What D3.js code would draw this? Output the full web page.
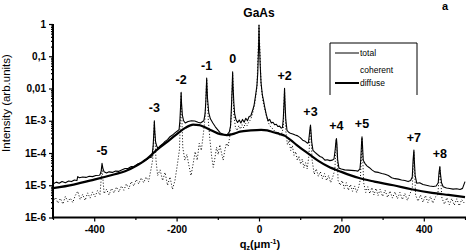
<!DOCTYPE html>
<html><head><meta charset="utf-8">
<script src="https://cdn.jsdelivr.net/npm/d3@7"></script>
<style>body{margin:0;background:#fff}svg{display:block}text{font-family:"Liberation Sans",Arial,sans-serif;fill:#000}</style>
</head><body><svg id="c" width="466" height="252"></svg>
<script>
// total intensity [q_z, I]
const total = [
[-500,1.1e-5],[-492,1.25e-5],[-485,1.15e-5],[-478,1.3e-5],[-470,1.2e-5],[-462,1.35e-5],[-455,1.3e-5],[-448,1.45e-5],[-442,1.4e-5],[-440,1.85e-5],[-436,1.7e-5],[-428,1.8e-5],[-420,1.75e-5],[-412,1.9e-5],[-404,1.85e-5],[-396,2.0e-5],[-388,2.05e-5],[-386,2.1e-5],[-383,2.8e-5],[-381,4.8e-5],[-379,3.4e-5],[-376,2.6e-5],[-370,2.4e-5],[-364,2.6e-5],[-356,2.5e-5],[-348,2.75e-5],[-340,2.7e-5],[-332,3.0e-5],[-325,3.3e-5],[-318,3.3e-5],[-310,3.8e-5],[-302,3.9e-5],[-294,4.6e-5],[-286,4.9e-5],[-278,5.9e-5],[-272,6.3e-5],[-266,7.2e-5],[-260,7.5e-5],[-257,1.6e-4],[-255,5e-4],[-254,1.0e-3],[-253,5e-4],[-251,2.2e-4],[-248,1.6e-4],[-245,1.4e-4],[-240,1.65e-4],[-234,1.9e-4],[-228,2.3e-4],[-222,2.6e-4],[-216,3.2e-4],[-210,3.6e-4],[-204,4.2e-4],[-198,4.8e-4],[-194,5.3e-4],[-192,1.0e-3],[-190,3.5e-3],[-189,7.6e-3],[-188,3.5e-3],[-186,1.5e-3],[-183,1.0e-3],[-179,8.5e-4],[-172,9.5e-4],[-164,1.0e-3],[-156,9.8e-4],[-148,9.0e-4],[-142,8.5e-4],[-134,1.0e-3],[-131,1.6e-3],[-129,4e-3],[-127,0.021],[-125,5e-3],[-122,1.8e-3],[-118,1.15e-3],[-112,8.5e-4],[-106,6.5e-4],[-100,5.2e-4],[-94,4.2e-4],[-88,3.9e-4],[-82,3.7e-4],[-78,3.6e-4],[-72,4.5e-4],[-69,7e-4],[-67,2.5e-3],[-65,0.012],[-64,0.033],[-63,0.012],[-61,3.5e-3],[-59,1.6e-3],[-56,1.1e-3],[-52,8.8e-4],[-48,1.05e-3],[-44,8.5e-4],[-40,1.1e-3],[-36,9.0e-4],[-32,1.2e-3],[-28,1.0e-3],[-24,1.35e-3],[-20,1.4e-3],[-16,2.0e-3],[-12,3.0e-3],[-8,6.5e-3],[-5,0.0125],[-3,0.03],[-1,0.2],[0,0.93],[1,0.25],[3,0.05],[5,0.015],[8,6.5e-3],[11,4.2e-3],[14,2.6e-3],[18,1.5e-3],[22,1.0e-3],[26,1.1e-3],[30,8.5e-4],[34,9.0e-4],[38,7.5e-4],[42,7.8e-4],[46,6.6e-4],[50,6.8e-4],[54,5.9e-4],[57,6.2e-4],[59,1.2e-3],[61,4.5e-3],[62,0.0102],[63,4e-3],[65,1.1e-3],[68,5e-4],[72,4.4e-4],[76,4.1e-4],[82,3.9e-4],[88,3.6e-4],[94,3.4e-4],[100,3.0e-4],[106,2.5e-4],[112,2.3e-4],[118,2.0e-4],[120,2.1e-4],[122,3.5e-4],[124,6e-4],[125,7.4e-4],[126,5e-4],[128,2.2e-4],[131,1.2e-4],[136,1.05e-4],[142,9e-5],[148,7.8e-5],[154,7.2e-5],[160,6.0e-5],[166,6.2e-5],[172,5.8e-5],[178,6.0e-5],[182,6.5e-5],[185,1.3e-4],[187,2.5e-4],[188,2.8e-4],[189,2.0e-4],[191,6e-5],[194,3.4e-5],[200,3.2e-5],[208,3.0e-5],[216,2.95e-5],[224,2.9e-5],[232,2.85e-5],[240,2.75e-5],[245,3.2e-5],[247,6e-5],[249,2.2e-4],[250,3.2e-4],[251,2e-4],[253,6e-5],[257,4.8e-5],[262,4e-5],[268,3.5e-5],[274,3.0e-5],[281,2.6e-5],[290,2.5e-5],[298,2.3e-5],[306,2.2e-5],[314,2.0e-5],[322,1.7e-5],[330,1.6e-5],[338,1.55e-5],[346,1.45e-5],[354,1.4e-5],[362,1.3e-5],[368,1.4e-5],[372,1.8e-5],[374,6e-5],[376,1.23e-4],[377,6e-5],[379,2e-5],[383,1.15e-5],[390,1.2e-5],[398,1.05e-5],[406,1.0e-5],[414,9.5e-6],[423,9.1e-6],[430,9.5e-6],[435,1.2e-5],[437,2.5e-5],[439,3.8e-5],[440,2.5e-5],[443,1.2e-5],[447,9e-6],[455,8.2e-6],[463,7.9e-6],[471,7.6e-6],[480,7.8e-6],[488,7.4e-6],[494,8e-6],[498,1.1e-5],[500,1.3e-5]
];
// coherent part [q_z, I]
const coherent = [
[-500,3.0e-6],[-494,4.2e-6],[-488,2.8e-6],[-482,3.9e-6],[-476,2.6e-6],[-470,4.5e-6],[-464,3.1e-6],[-458,4.0e-6],[-452,2.9e-6],[-446,4.8e-6],[-440,6.5e-6],[-434,3.6e-6],[-428,5.2e-6],[-422,3.4e-6],[-416,5.8e-6],[-410,4.0e-6],[-404,6.2e-6],[-398,4.4e-6],[-392,6.8e-6],[-386,5.0e-6],[-381,3.5e-5],[-376,5.5e-6],[-370,7.5e-6],[-364,5.0e-6],[-358,8.0e-6],[-352,5.8e-6],[-346,8.8e-6],[-340,6.2e-6],[-334,9.5e-6],[-328,7.0e-6],[-322,1.1e-5],[-316,7.8e-6],[-310,1.3e-5],[-304,9.5e-6],[-298,1.5e-5],[-292,1.1e-5],[-286,1.7e-5],[-280,1.2e-5],[-274,1.8e-5],[-268,1.3e-5],[-262,3.2e-5],[-258,6.3e-5],[-254,9e-4],[-250,6e-5],[-246,2.0e-5],[-240,3.0e-5],[-234,1.4e-5],[-228,2.5e-5],[-222,1.0e-5],[-216,1.8e-5],[-210,7.5e-6],[-204,1.4e-5],[-198,4.5e-5],[-193,1.3e-4],[-189,7e-3],[-185,1.5e-4],[-180,6.0e-5],[-175,9.0e-5],[-170,4.0e-5],[-165,2.0e-5],[-160,4.5e-5],[-155,1.1e-4],[-150,6.0e-5],[-145,2.0e-4],[-140,1.2e-4],[-135,4.0e-4],[-131,1.2e-3],[-127,0.02],[-123,1.0e-3],[-119,2.5e-4],[-115,8.0e-5],[-111,3.6e-5],[-107,7.0e-5],[-103,1.5e-4],[-99,9.0e-5],[-95,1.8e-4],[-91,1.0e-4],[-87,6.0e-5],[-83,1.2e-4],[-79,2.0e-4],[-75,1.6e-4],[-71,3.2e-4],[-67,1.5e-3],[-64,0.03],[-61,1.5e-3],[-57,6.0e-4],[-53,5.0e-4],[-49,7.0e-4],[-45,5.5e-4],[-41,7.5e-4],[-37,6.0e-4],[-33,8.5e-4],[-29,7.0e-4],[-25,9.0e-4],[-20,1.1e-3],[-15,1.8e-3],[-10,3.5e-3],[-5,0.011],[0,0.9],[5,0.013],[10,3.8e-3],[15,2.0e-3],[20,1.1e-3],[25,7.5e-4],[30,6.0e-4],[35,5.5e-4],[40,4.2e-4],[45,4.6e-4],[50,3.6e-4],[55,4.0e-4],[59,6.0e-4],[62,0.0095],[65,5.0e-4],[69,1.8e-4],[73,2.4e-4],[77,1.2e-4],[81,1.7e-4],[85,8.5e-5],[89,1.1e-4],[93,6.0e-5],[97,8.0e-5],[101,4.5e-5],[105,6.5e-5],[109,3.5e-5],[113,5.0e-5],[117,3.2e-5],[121,8e-5],[125,7e-4],[129,6e-5],[134,2.2e-5],[139,3.2e-5],[144,1.9e-5],[149,2.6e-5],[154,1.6e-5],[159,2.3e-5],[164,1.4e-5],[169,2.0e-5],[174,1.2e-5],[179,1.8e-5],[184,3.0e-5],[188,2.6e-4],[192,1.4e-5],[197,1.0e-5],[202,1.4e-5],[207,8.0e-6],[212,1.2e-5],[217,7.0e-6],[222,1.05e-5],[227,6.5e-6],[232,9.5e-6],[237,6.0e-6],[242,9.0e-6],[246,1.5e-5],[250,3.0e-4],[254,1.2e-5],[259,6.0e-6],[264,9.0e-6],[269,5.5e-6],[274,8.5e-6],[279,5.0e-6],[284,8.0e-6],[289,4.8e-6],[294,7.5e-6],[300,4.5e-6],[306,7.0e-6],[312,4.2e-6],[318,6.6e-6],[324,4.0e-6],[330,6.2e-6],[336,3.8e-6],[342,6.0e-6],[348,3.6e-6],[354,5.6e-6],[360,3.4e-6],[366,5.3e-6],[372,8.0e-6],[376,1.1e-4],[380,5.0e-6],[386,3.2e-6],[392,5.0e-6],[398,3.0e-6],[404,4.8e-6],[410,2.9e-6],[416,4.5e-6],[422,2.8e-6],[428,4.3e-6],[434,5.0e-6],[439,3.5e-5],[444,4.0e-6],[450,2.6e-6],[456,4.1e-6],[462,2.5e-6],[468,3.9e-6],[474,2.4e-6],[480,3.8e-6],[486,2.3e-6],[492,3.6e-6],[500,2.6e-6]
];
// diffuse part [q_z, I]
const diffuse = [
[-500,8.1e-6],[-450,1.05e-5],[-400,1.5e-5],[-350,2.2e-5],[-325,2.7e-5],[-300,3.9e-5],[-272,6.6e-5],[-245,1.35e-4],[-216,2.6e-4],[-195,4.3e-4],[-179,6.0e-4],[-160,7.6e-4],[-145,7.3e-4],[-135,6.6e-4],[-115,5.0e-4],[-94,3.8e-4],[-78,3.6e-4],[-60,4.0e-4],[-46,4.6e-4],[-20,5.0e-4],[5,5.2e-4],[20,5.0e-4],[35,4.4e-4],[50,3.9e-4],[63,3.4e-4],[77,2.5e-4],[91,1.8e-4],[107,1.25e-4],[124,8.7e-5],[145,5.6e-5],[168,3.8e-5],[200,2.6e-5],[241,1.7e-5],[280,1.3e-5],[326,1.0e-5],[370,7.5e-6],[420,5.8e-6],[460,5.0e-6],[500,4.3e-6]
];
const peakLabels = ["-5","-3","-2","-1","0","GaAs","+2","+3","+4","+5","+7","+8"];
const peakQ = [-381,-254,-189,-127,-64,0,62,125,188,250,376,439];
const xTicks = [-400,-200,0,200,400];
const xMinor = [-500,-300,-100,100,300,500];
const yTicks = [1,0.1,0.01,1e-3,1e-4,1e-5,1e-6];
const yTickLabels = ["1","0,1","0,01","1E-3","1E-4","1E-5","1E-6"];
const legendItems = ["total","coherent","diffuse"];

const svg = d3.select("#c");
const L=53, R=465, T=24, B=217.5;
const x = d3.scaleLinear().domain([-500,500]).range([L,R]);
const y = d3.scaleLog().domain([1e-6,1]).range([B,T]);

svg.append("defs").append("clipPath").attr("id","clip").append("rect")
  .attr("x",L).attr("y",T-4).attr("width",R-L+1).attr("height",B-T+4);

const line = d3.line().x(d=>x(d[0])).y(d=>y(d[1]));
const g = svg.append("g").attr("clip-path","url(#clip)");
g.append("path").datum(coherent).attr("d",line).attr("fill","none")
  .attr("stroke","#000").attr("stroke-width",1).attr("stroke-dasharray","1 2");
g.append("path").datum(diffuse).attr("d",d3.line().x(d=>x(d[0])).y(d=>y(d[1])).curve(d3.curveMonotoneX))
  .attr("fill","none").attr("stroke","#000").attr("stroke-width",2.2);
g.append("path").datum(total).attr("d",line).attr("fill","none")
  .attr("stroke","#000").attr("stroke-width",1.1).attr("stroke-linejoin","round");

// axes
const minorY = [];
for (let e=-6;e<0;e++) for (let m=2;m<10;m++) minorY.push(m*Math.pow(10,e));
const yAxis = d3.axisLeft(y).tickValues(yTicks).tickFormat((d,i)=>yTickLabels[i]).tickSize(4).tickPadding(3);
const yMinorAxis = d3.axisLeft(y).tickValues(minorY).tickFormat("").tickSize(2);
const xAxis = d3.axisBottom(x).tickValues(xTicks).tickFormat(d=>d).tickSize(4).tickPadding(4);
const xMinorAxis = d3.axisBottom(x).tickValues(xMinor).tickFormat("").tickSize(2.5);

function styleAxis(sel){
  sel.select(".domain").remove();
  sel.selectAll("line").attr("stroke","#000").attr("stroke-width",1.2);
  sel.selectAll("text").attr("font-size",10).attr("font-weight","bold").attr("font-family","Liberation Sans, Arial, sans-serif");
}
svg.append("g").attr("transform",`translate(${L},0)`).call(yMinorAxis).call(styleAxis);
svg.append("g").attr("transform",`translate(${L},0)`).call(yAxis).call(styleAxis);
svg.append("g").attr("transform",`translate(0,${B})`).call(xMinorAxis).call(styleAxis);
svg.append("g").attr("transform",`translate(0,${B})`).call(xAxis).call(styleAxis);
svg.append("line").attr("x1",L).attr("x2",L).attr("y1",T).attr("y2",B+1).attr("stroke","#000").attr("stroke-width",2);
svg.append("line").attr("x1",L-1).attr("x2",R+1).attr("y1",B).attr("y2",B).attr("stroke","#000").attr("stroke-width",2);

// peak labels
function peakHeight(q){
  let best=0; total.forEach(d=>{ if (Math.abs(d[0]-q)<=3 && d[1]>best) best=d[1]; });
  return best;
}
svg.append("g").selectAll("text").data(peakLabels).join("text")
  .attr("x",(d,i)=>x(peakQ[i])).attr("y",(d,i)=>y(peakHeight(peakQ[i]))-8.5)
  .attr("text-anchor","middle").attr("font-size",d=>d==="GaAs"?12:12.5).attr("font-weight","bold").text(d=>d);

// corner letter
svg.append("text").attr("x",445).attr("y",10).attr("text-anchor","middle").attr("font-size",11).attr("font-weight","bold").text("a");

// axis titles
const xt = svg.append("text").attr("x",260).attr("y",248).attr("text-anchor","middle").attr("font-size",11).attr("font-weight","bold");
xt.append("tspan").text("q");
xt.append("tspan").attr("font-size",7).attr("dy",2).text("z");
xt.append("tspan").attr("dy",-2).text("(μm");
xt.append("tspan").attr("font-size",7).attr("dy",-4).text("-1");
xt.append("tspan").attr("dy",4).text(")");
svg.append("text").attr("transform","translate(10,103) rotate(-90)").attr("text-anchor","middle")
  .attr("font-size",11.5).text("Intensity (arb.units)");

// legend
const lg = svg.append("g");
lg.append("path").attr("d","M330,95V43H417V95").attr("fill","none").attr("stroke","#000").attr("stroke-width",1);
const ly = [53,69.5,83];
lg.selectAll("text").data(legendItems).join("text").attr("x",360).attr("y",(d,i)=>ly[i]+3)
  .attr("font-size",8.5).text(d=>d);
lg.append("line").attr("x1",335).attr("x2",359).attr("y1",ly[0]).attr("y2",ly[0]).attr("stroke","#000").attr("stroke-width",1);
lg.append("line").attr("x1",335).attr("x2",359).attr("y1",ly[2]).attr("y2",ly[2]).attr("stroke","#000").attr("stroke-width",2);
</script></body></html>
